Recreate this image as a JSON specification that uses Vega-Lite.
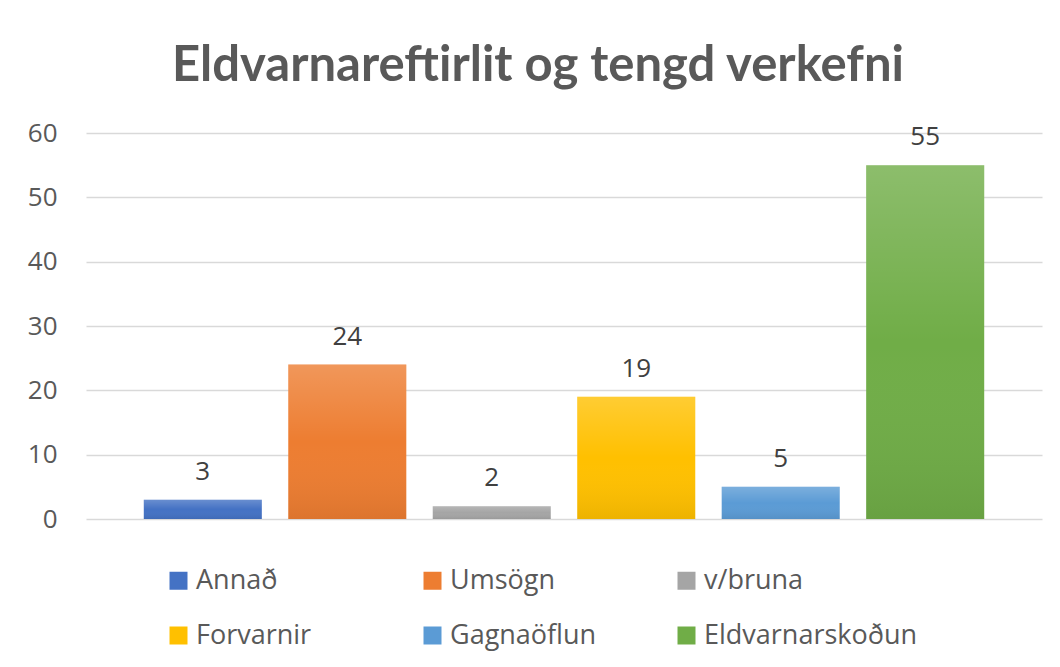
{
  "$schema": "https://vega.github.io/schema/vega-lite/v6.json",
  "width": 956,
  "height": 386,
  "autosize": {"type": "none"},
  "padding": {"left": 86, "top": 133, "right": 18, "bottom": 148},
  "background": "#ffffff",
  "view": {"stroke": null},
  "title": {
    "text": "Eldvarnareftirlit og tengd verkefni",
    "font": "Lato",
    "fontSize": 49,
    "fontWeight": "bold",
    "color": "#595959",
    "anchor": "middle",
    "baseline": "alphabetic",
    "offset": 51,
    "dy": 61,
    "dx": -26
  },
  "data": {
    "values": [
      {"flokkur": "Annað", "fjoldi": 3},
      {"flokkur": "Umsögn", "fjoldi": 24},
      {"flokkur": "v/bruna", "fjoldi": 2},
      {"flokkur": "Forvarnir", "fjoldi": 19},
      {"flokkur": "Gagnaöflun", "fjoldi": 5},
      {"flokkur": "Eldvarnarskoðun", "fjoldi": 55}
    ]
  },
  "encoding": {
    "x": {
      "field": "flokkur",
      "type": "nominal",
      "sort": null,
      "scale": {"paddingInner": 0.183, "paddingOuter": 0.4},
      "axis": null
    },
    "y": {
      "field": "fjoldi",
      "type": "quantitative",
      "scale": {"domain": [0, 60], "nice": false},
      "axis": {
        "values": [0, 10, 20, 30, 40, 50, 60],
        "title": null,
        "domain": false,
        "ticks": false,
        "labelPadding": 29,
        "labelFont": "Open Sans",
        "labelFontSize": 26,
        "labelColor": "#595959",
        "gridColor": "#d9d9d9",
        "gridWidth": 1.4
      }
    }
  },
  "layer": [
    {
      "mark": {"type": "bar"},
      "encoding": {
        "color": {
          "field": "flokkur",
          "type": "nominal",
          "sort": null,
          "scale": {
            "domain": ["Annað", "Umsögn", "v/bruna", "Forvarnir", "Gagnaöflun", "Eldvarnarskoðun"],
            "range": ["#4472C4", "#ED7D31", "#A5A5A5", "#FFC000", "#5B9BD5", "#70AD47"]
          },
          "legend": {
            "title": null,
            "orient": "none",
            "direction": "horizontal",
            "legendX": 79,
            "legendY": 434,
            "columns": 3,
            "gridAlign": "all",
            "columnPadding": 9,
            "rowPadding": 27,
            "symbolType": "square",
            "symbolSize": 324,
            "symbolStrokeWidth": 0,
            "symbolOpacity": 1,
            "labelOffset": 4,
            "labelFont": "Open Sans",
            "labelFontSize": 27,
            "labelColor": "#595959",
            "labelLimit": 400
          }
        }
      }
    },
    {
      "mark": {
        "type": "bar",
        "color": {
          "gradient": "linear",
          "x1": 0, "y1": 0, "x2": 0, "y2": 1,
          "stops": [
            {"offset": 0, "color": "rgba(255,255,255,0.2)"},
            {"offset": 0.5, "color": "rgba(255,255,255,0)"},
            {"offset": 1, "color": "rgba(0,0,0,0.07)"}
          ]
        }
      }
    },
    {
      "mark": {
        "type": "text",
        "baseline": "alphabetic",
        "dy": -20,
        "font": "Open Sans",
        "fontSize": 26,
        "color": "#404040"
      },
      "encoding": {
        "text": {"field": "fjoldi", "type": "quantitative"}
      }
    }
  ]
}
